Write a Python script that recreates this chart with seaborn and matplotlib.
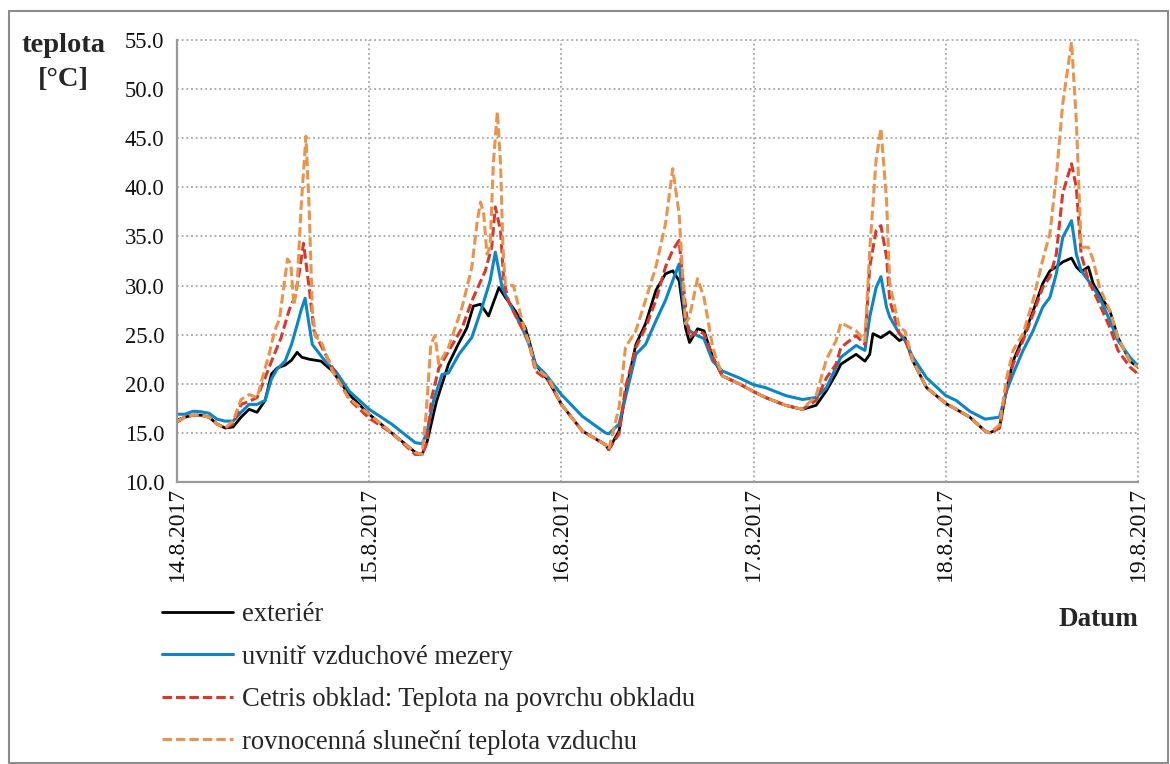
import numpy as np
import pandas as pd
import matplotlib
matplotlib.use("Agg")
import matplotlib.pyplot as plt
from matplotlib.patches import Rectangle
import seaborn as sns

# ---- axis labels -----------------------------------------------------------
day_ticks = [0, 24, 48, 72, 96, 120]          # hours since 14.8.2017 00:00
day_labels = ["14.8.2017", "15.8.2017", "16.8.2017",
              "17.8.2017", "18.8.2017", "19.8.2017"]
y_ticks = [10, 15, 20, 25, 30, 35, 40, 45, 50, 55]

series_names = ["exteriér",
                "uvnitř vzduchové mezery",
                "Cetris obklad: Teplota na povrchu obkladu",
                "rovnocenná sluneční teplota vzduchu"]

# ---- measured temperatures [°C] (time in hours) ---------------------------
ext_h = [0, 1, 2, 3, 4, 5, 6, 7, 8, 9, 10, 11, 11.8, 12.5, 13.5, 14.3, 15.0,
         15.6, 16.5, 18.0, 19.4, 21.5, 24, 26.8, 29.8, 30.6, 31.2, 32.4, 33.9,
         35.1, 36.2, 37.0, 37.9, 38.9, 40.2, 41.0, 42.25, 43.5, 44.1, 44.75,
         46.4, 48.0, 50.6, 53.5, 53.9, 55.2, 56.0, 57.3, 58.5, 59.8, 61.0,
         61.9, 62.7, 63.5, 64.0, 65.0, 65.8, 66.9, 68.1, 70.2, 72.0, 73.5,
         76.0, 78.1, 79.8, 81.1, 82.3, 82.9, 84.8, 85.9, 86.5, 86.9, 87.9,
         89.0, 90.2, 90.9, 91.9, 93.6, 96.0, 97.3, 99.0, 100.9, 101.5, 102.7,
         103.6, 104.4, 105.65, 106.9, 108.1, 109.0, 109.8, 110.6, 111.7,
         112.3, 112.9, 113.8, 114.4, 115.2, 116.5, 117.5, 119.0, 120]
ext_t = [16.3, 16.6, 16.8, 16.8, 16.6, 15.9, 15.5, 15.6, 16.6, 17.4, 17.1,
         18.3, 21.0, 21.6, 21.9, 22.4, 23.2, 22.7, 22.5, 22.3, 21.3, 18.9,
         16.9, 15.0, 13.0, 12.8, 14.0, 18.2, 22.0, 24.0, 25.7, 27.9, 28.1,
         26.9, 29.8, 28.8, 27.4, 25.7, 24.0, 22.0, 20.3, 17.9, 15.2, 13.8,
         13.3, 15.2, 19.0, 24.0, 26.1, 29.5, 31.2, 31.5, 30.5, 25.7, 24.2,
         25.6, 25.4, 22.7, 20.8, 20.0, 19.2, 18.6, 17.8, 17.4, 17.8, 19.3,
         21.0, 22.0, 23.0, 22.3, 23.0, 25.1, 24.7, 25.3, 24.4, 24.7, 22.3,
         19.6, 18.0, 17.4, 16.6, 15.2, 15.0, 15.5, 19.5, 22.3, 24.7, 27.4,
         30.2, 31.5, 31.9, 32.4, 32.8, 31.9, 31.4, 31.9, 30.2, 29.1, 27.4,
         24.7, 22.3, 21.7]

gap_h = [0, 1, 2, 3, 4, 5, 6, 7, 8, 9, 10, 11, 11.8, 12.5, 13.5, 14.3, 15.0,
         15.5, 16.0, 16.4, 16.9, 18.5, 19.8, 21.5, 24, 26.8, 29.75, 30.6,
         31.2, 32.0, 33.1, 33.9, 35.2, 36.8, 38.1, 39.1, 39.75, 40.6, 41.8,
         43.1, 44.1, 44.75, 46.0, 48.0, 50.6, 53.5, 53.9, 55.2, 56.0, 57.3,
         58.5, 59.8, 61.0, 61.9, 62.7, 63.5, 64.0, 65.0, 65.8, 66.9, 68.1,
         70.2, 72.0, 73.5, 76.0, 78.1, 79.8, 81.1, 82.3, 82.9, 84.8, 85.9,
         86.5, 87.3, 87.9, 88.6, 89.0, 90.2, 90.9, 91.9, 93.6, 96.0, 97.3,
         99.0, 100.9, 102.7, 103.6, 104.4, 105.65, 106.9, 108.1, 109.0, 109.8,
         110.6, 111.7, 112.3, 112.9, 113.8, 114.4, 115.2, 116.5, 117.5, 119.0,
         120]
gap_t = [16.9, 16.9, 17.2, 17.15, 17.0, 16.4, 16.2, 16.2, 17.1, 17.9, 17.9,
         18.3, 20.5, 21.5, 22.3, 24.0, 26.0, 27.5, 28.7, 26.5, 24.0, 22.3,
         21.3, 19.25, 17.4, 15.9, 14.0, 13.9, 15.0, 18.2, 20.95, 21.1, 23.0,
         24.7, 27.8, 30.5, 33.4, 29.8, 27.75, 25.7, 23.7, 22.0, 21.0, 18.9,
         16.7, 15.0, 14.9, 15.9, 18.6, 23.0, 24.0, 26.4, 28.5, 30.5, 32.2,
         26.4, 25.4, 24.9, 24.6, 22.3, 21.3, 20.6, 19.9, 19.6, 18.8, 18.4,
         18.6, 19.6, 21.7, 22.7, 23.9, 23.4, 26.8, 29.8, 30.9, 27.8, 26.8,
         25.1, 24.4, 22.7, 20.6, 18.8, 18.3, 17.2, 16.4, 16.6, 19.3, 21.0,
         23.4, 25.4, 27.8, 28.8, 31.2, 34.9, 36.6, 33.2, 31.5, 30.5, 29.8,
         28.8, 26.4, 24.4, 22.7, 21.8]

surf_h = [0, 1, 2, 3, 4, 5, 6, 7, 8, 9, 10, 11, 12, 13, 14, 14.8, 15.3, 15.8,
          16.5, 17.1, 18.1, 19.8, 21.5, 24, 26.8, 29.75, 30.6, 31.2, 31.8,
          32.7, 33.9, 35.6, 36.8, 38.5, 39.3, 39.75, 40.4, 40.8, 41.4, 42.6,
          43.9, 44.75, 46.4, 48.0, 50.6, 53.5, 53.9, 55.2, 56.0, 57.3, 58.5,
          59.8, 61.0, 61.9, 62.7, 63.5, 64.0, 65.0, 65.8, 66.9, 68.1, 70.2,
          72.0, 73.5, 76.0, 78.1, 79.8, 81.1, 82.3, 82.9, 84.8, 85.9, 86.5,
          87.3, 87.9, 88.6, 89.0, 90.2, 90.9, 91.9, 93.6, 96.0, 97.3, 99.0,
          100.9, 101.5, 102.7, 103.6, 104.4, 105.65, 106.9, 108.1, 109.0,
          109.8, 110.6, 111.7, 112.3, 112.9, 113.8, 114.4, 115.2, 116.5,
          117.5, 119.0, 120]
surf_t = [16.1, 16.6, 16.8, 16.8, 16.6, 15.9, 15.5, 15.9, 17.9, 18.2, 18.6,
          20.6, 22.7, 24.7, 27.5, 29.0, 31.5, 34.3, 29.8, 25.4, 23.7, 21.0,
          18.4, 16.5, 15.0, 12.8, 12.8, 14.0, 18.6, 21.6, 23.3, 25.7, 28.4,
          31.5, 33.9, 38.0, 35.6, 30.5, 28.4, 26.4, 24.4, 21.3, 20.3, 17.9,
          15.2, 13.8, 13.3, 14.9, 19.6, 23.7, 25.7, 28.5, 31.9, 33.6, 34.6,
          27.8, 24.7, 25.4, 25.1, 22.7, 20.8, 20.0, 19.2, 18.6, 17.8, 17.4,
          18.3, 20.6, 22.0, 23.7, 24.9, 24.0, 31.9, 35.6, 36.1, 32.9, 28.5,
          25.1, 24.6, 22.3, 19.6, 18.0, 17.4, 16.6, 15.2, 15.0, 15.5, 19.6,
          22.0, 24.4, 27.1, 29.8, 30.9, 33.2, 39.4, 42.4, 40.0, 33.2, 30.5,
          29.5, 28.1, 25.7, 23.4, 21.7, 21.0]

sol_h = [0, 1, 2, 3, 4, 5, 6, 7, 8, 9, 10, 10.8, 11.5, 12.2, 12.8, 13.8,
         14.2, 14.6, 15.0, 15.5, 16.1, 16.5, 16.9, 17.3, 18.0, 19.4, 21.5,
         24, 26.8, 29.75, 30.6, 31.1, 31.7, 32.2, 32.7, 33.9, 35.6, 36.8,
         37.5, 37.9, 38.3, 38.7, 39.1, 39.5, 40.0, 40.4, 40.7, 41.0, 42.0,
         43.1, 44.1, 44.75, 46.4, 48.0, 50.6, 53.5, 53.9, 55.2, 56.0, 57.3,
         58.5, 59.8, 61.0, 61.9, 62.7, 63.5, 64.0, 65.0, 65.8, 66.9, 68.1,
         70.2, 72.0, 73.5, 76.0, 78.1, 79.8, 81.1, 82.3, 82.9, 84.8, 85.9,
         86.5, 87.3, 87.9, 88.6, 89.0, 90.2, 90.9, 91.9, 93.6, 96.0, 97.3,
         99.0, 100.9, 101.5, 102.7, 103.6, 104.4, 105.65, 106.9, 108.1,
         109.0, 109.8, 110.6, 111.7, 112.3, 112.9, 113.8, 114.4, 115.2,
         116.5, 117.5, 119.0, 120]
sol_t = [16.2, 16.6, 16.8, 16.8, 16.6, 15.9, 15.5, 16.2, 18.4, 18.9, 18.6,
         21.0, 23.0, 25.4, 26.6, 32.7, 32.3, 28.0, 30.0, 38.0, 45.2, 38.0,
         27.5, 24.8, 24.3, 21.3, 18.5, 16.9, 15.0, 13.0, 12.8, 16.9, 24.0,
         24.9, 22.0, 23.7, 27.8, 31.8, 36.6, 38.5, 37.3, 33.2, 33.9, 42.4,
         47.7, 42.4, 33.9, 30.1, 30.0, 26.4, 23.7, 21.6, 20.6, 17.9, 15.2,
         13.8, 13.3, 17.6, 23.7, 25.4, 28.5, 31.9, 36.3, 41.9, 37.3, 26.1,
         26.8, 30.7, 28.8, 23.7, 20.8, 20.0, 19.2, 18.6, 17.8, 17.4, 18.8,
         22.5, 24.4, 26.2, 25.4, 24.4, 33.6, 42.8, 46.0, 38.7, 30.2, 25.7,
         25.4, 22.3, 19.6, 18.0, 17.4, 16.6, 15.2, 15.0, 15.8, 20.6, 23.4,
         25.1, 28.5, 32.6, 35.3, 41.1, 48.5, 54.8, 46.8, 33.9, 33.9, 32.6,
         29.8, 27.4, 24.7, 22.3, 21.7]

# ---- styling ---------------------------------------------------------------
sns.set_style("white")
plt.rcParams["font.family"] = ["Liberation Serif", "DejaVu Serif"]
plt.rcParams["axes.unicode_minus"] = False

colors = ["#000000", "#0A86C9", "#D63A2A", "#E9944C"]
widths = [2.0, 2.2, 2.2, 2.2]
dashed = [False, False, True, True]

fig = plt.figure(figsize=(11.70, 7.64), dpi=100)
ax = fig.add_axes([177 / 1170, 1 - 482 / 764, (1138 - 177) / 1170, (482 - 40) / 764])

frames = [pd.DataFrame({"hod": h, "teplota": t})
          for h, t in [(ext_h, ext_t), (gap_h, gap_t), (surf_h, surf_t), (sol_h, sol_t)]]

for df, name, col, lw, dsh in zip(frames, series_names, colors, widths, dashed):
    sns.lineplot(data=df, x="hod", y="teplota", ax=ax, color=col, linewidth=lw,
                 estimator=None, sort=False, label=name)
    line = ax.lines[-1]
    line.set_solid_joinstyle("round")
    line.set_dash_joinstyle("round")
    if dsh:
        line.set_linestyle((0, (3.1, 1.3)))
        line.set_dash_capstyle("butt")

handles, labels = ax.get_legend_handles_labels()
if ax.get_legend() is not None:
    ax.get_legend().remove()

ax.set_xlim(0, 120)
ax.set_ylim(10, 55)
ax.set_xticks(day_ticks)
ax.set_xticklabels(day_labels, rotation=90, fontsize=17)
ax.set_yticks(y_ticks)
ax.set_yticklabels([f"{v:.1f}" for v in y_ticks], fontsize=16.3)
ax.set_xlabel("")
ax.set_ylabel("")

grid_kw = dict(color="#a6a6a6", linewidth=1.3, linestyle=(0, (1.0, 1.6)))
ax.grid(True, axis="both", **grid_kw)
ax.set_axisbelow(True)
for side in ["top", "right"]:
    ax.spines[side].set_visible(False)
for side in ["left", "bottom"]:
    ax.spines[side].set_color("#999999")
    ax.spines[side].set_linewidth(1.6)
ax.tick_params(axis="both", which="major", direction="out", length=5,
               width=1.3, color="#999999", labelcolor="#111111")
ax.tick_params(axis="y", pad=4)
ax.tick_params(axis="x", pad=-1.5)
# right-hand day gridline and top value gridline sit on the plot edge
for g in ax.get_xgridlines() + ax.get_ygridlines():
    g.set_clip_on(False)

# axis titles
fig.text(63 / 1170, 1 - 52 / 764, "teplota", fontsize=20.5, fontweight="bold",
         ha="center", va="baseline")
fig.text(63 / 1170, 1 - 86 / 764, "[°C]", fontsize=20.5, fontweight="bold",
         ha="center", va="baseline")
fig.text(1138 / 1170, 1 - 626 / 764, "Datum", fontsize=19.5, fontweight="bold",
         ha="right", va="baseline")

fig.legend(handles, labels, loc="upper left",
           bbox_to_anchor=(162 / 1170, 1 - 602 / 764),
           frameon=False, fontsize=19.2, handlelength=2.65, handletextpad=0.34,
           labelspacing=0.66, borderpad=0, borderaxespad=0)

# outer chart frame
fig.patches.append(Rectangle((9 / 1170, 1 / 764), (1168 - 9) / 1170, (762 - 10) / 764,
                             transform=fig.transFigure, fill=False,
                             edgecolor="#8c8c8c", linewidth=1.5))

fig.savefig("out.png", dpi=100)
